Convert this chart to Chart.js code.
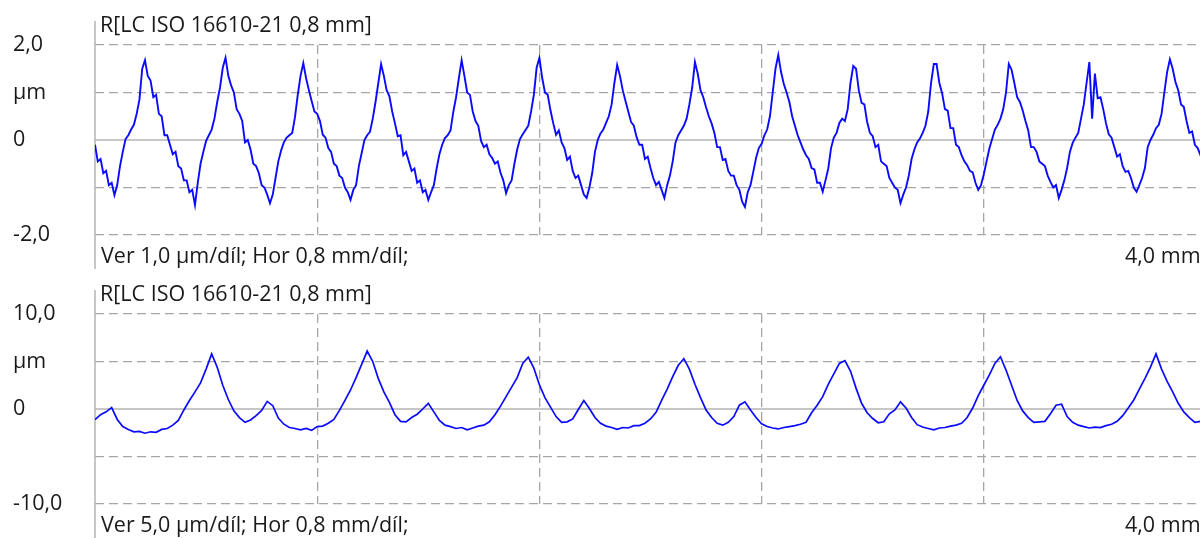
<!DOCTYPE html>
<html>
<head>
<meta charset="utf-8">
<script src="https://cdn.jsdelivr.net/npm/chart.js@4/dist/chart.umd.min.js"></script>
<style>
  html, body { margin: 0; padding: 0; background: #ffffff; overflow: hidden; width: 1200px; height: 538px; }
  canvas { display: block; }
</style>
</head>
<body>
<canvas id="top" width="1210" height="269"></canvas>
<canvas id="bottom" width="1210" height="269"></canvas>
<script>
// ---- Data ----
const panelTitle = "R[LC ISO 16610-21 0,8 mm]";
const topFooter = "Ver 1,0 µm/díl; Hor 0,8 mm/díl;";
const bottomFooter = "Ver 5,0 µm/díl; Hor 0,8 mm/díl;";
const rangeLabel = "4,0 mm";
const xTickValues = [0, 0.8, 1.6, 2.4, 3.2, 4.0];           // mm
const topYTickLabels = ["-2,0", "", "0", "µm", "2,0"];      // for -2,-1,0,1,2 µm
const bottomYTickLabels = ["-10,0", "", "0", "µm", "10,0"]; // for -10,-5,0,5,10 µm

// profile sampling interval (mm)
const topStepMm = 0.01;
const bottomStepMm = 0.02;

// top profile (µm), one value per 0.01 mm
const topProfile = [
 -0.10,-0.45,-0.40,-0.70,-0.65,-0.95,-0.90,-1.16,-0.95,-0.55,
 -0.25,0.02,0.10,0.22,0.32,0.55,0.85,1.50,1.68,1.35,
 1.25,0.90,0.95,0.55,0.50,0.10,0.10,-0.10,-0.30,-0.25,
 -0.55,-0.60,-0.85,-0.85,-1.10,-1.05,-1.37,-0.90,-0.50,-0.25,
 -0.02,0.10,0.22,0.45,0.80,1.10,1.52,1.73,1.35,1.15,
 1.00,0.65,0.55,0.40,-0.05,0.00,-0.20,-0.50,-0.55,-0.70,
 -0.95,-1.00,-1.15,-1.33,-1.15,-0.80,-0.45,-0.22,-0.05,0.05,
 0.10,0.15,0.48,0.95,1.35,1.62,1.30,1.05,0.82,0.60,
 0.55,0.40,0.11,0.05,-0.17,-0.25,-0.50,-0.55,-0.75,-0.80,
 -1.00,-1.10,-1.26,-1.05,-0.95,-0.55,-0.28,0.00,0.10,0.17,
 0.45,0.80,1.20,1.60,1.35,1.05,0.92,0.60,0.35,0.08,
 0.10,-0.32,-0.25,-0.45,-0.65,-0.60,-0.90,-0.85,-1.10,-1.05,
 -1.26,-1.10,-0.95,-0.60,-0.30,-0.10,0.04,0.10,0.20,0.59,
 0.90,1.30,1.68,1.35,1.00,0.95,0.60,0.40,0.30,-0.02,
 -0.15,-0.10,-0.30,-0.38,-0.50,-0.45,-0.69,-0.85,-1.12,-0.95,
 -0.85,-0.50,-0.20,0.02,0.12,0.21,0.30,0.60,0.95,1.52,
 1.73,1.31,1.00,0.95,0.62,0.35,0.11,0.20,-0.05,-0.17,
 -0.42,-0.35,-0.65,-0.80,-0.75,-0.95,-1.15,-1.22,-1.00,-0.70,
 -0.25,0.00,0.14,0.22,0.36,0.50,0.75,1.20,1.58,1.35,
 1.05,0.82,0.60,0.38,0.30,0.06,-0.10,-0.10,-0.40,-0.35,
 -0.59,-0.80,-0.95,-0.88,-1.05,-1.22,-0.95,-0.75,-0.45,-0.05,
 0.10,0.20,0.30,0.45,0.75,1.10,1.64,1.40,1.05,0.90,
 0.69,0.50,0.35,0.15,-0.15,-0.15,-0.42,-0.40,-0.65,-0.75,
 -0.75,-0.95,-1.05,-1.30,-1.41,-1.10,-0.95,-0.67,-0.38,-0.17,
 -0.08,0.10,0.22,0.50,1.00,1.50,1.79,1.43,1.18,1.00,
 0.80,0.50,0.30,0.10,-0.05,-0.20,-0.32,-0.40,-0.59,-0.62,
 -0.90,-0.90,-1.09,-0.85,-0.60,-0.17,0.05,0.15,0.36,0.45,
 0.40,0.65,1.20,1.56,1.50,1.05,0.78,0.75,0.38,0.15,
 0.08,-0.15,-0.10,-0.45,-0.50,-0.55,-0.80,-0.90,-1.00,-1.05,
 -1.33,-1.15,-1.00,-0.75,-0.40,-0.20,-0.05,0.03,0.15,0.30,
 0.60,1.20,1.60,1.60,1.20,0.98,0.65,0.62,0.25,0.25,
 -0.10,-0.15,-0.32,-0.45,-0.53,-0.65,-0.68,-0.90,-1.05,-0.95,
 -0.72,-0.45,-0.18,0.02,0.22,0.32,0.45,0.65,1.00,1.60,
 1.48,1.20,0.90,0.80,0.62,0.40,0.20,-0.15,-0.15,-0.25,
 -0.45,-0.50,-0.55,-0.75,-0.88,-1.00,-0.95,-1.22,-1.05,-0.85,
 -0.59,-0.25,-0.06,0.05,0.15,0.45,0.75,1.20,1.64,0.45,
 1.40,0.88,0.90,0.65,0.35,0.12,0.05,-0.15,-0.35,-0.30,
 -0.55,-0.67,-0.65,-0.80,-1.00,-1.09,-0.95,-0.80,-0.59,-0.15,
 0.00,0.11,0.25,0.32,0.55,1.00,1.43,1.70,1.50,1.22,
 1.05,0.75,0.70,0.40,0.15,0.18,-0.10,-0.17,-0.32,-0.20,
 -0.30
];

// bottom profile (µm), one value per 0.02 mm
const bottomProfile = [
 -1.13,-0.60,-0.30,0.15,-1.10,-1.85,-2.15,-2.40,-2.35,-2.55,
 -2.40,-2.45,-2.15,-2.05,-1.70,-1.20,-0.10,0.90,1.80,2.75,
 4.20,5.80,4.40,2.50,1.00,-0.20,-0.90,-1.40,-1.15,-0.70,
 -0.15,0.80,0.35,-0.95,-1.60,-1.95,-2.05,-2.20,-2.05,-2.25,
 -1.85,-1.80,-1.50,-1.10,-0.15,0.90,2.00,3.30,4.70,6.10,
 5.00,3.20,1.80,0.70,-0.60,-1.30,-1.35,-0.90,-0.55,0.00,
 0.60,-0.30,-1.20,-1.70,-1.85,-2.05,-1.95,-2.20,-2.00,-1.80,
 -1.70,-1.35,-0.60,0.30,1.30,2.30,3.30,4.80,5.45,4.30,
 2.55,1.20,0.20,-0.80,-1.40,-1.35,-1.05,-0.05,0.90,0.05,
 -0.90,-1.50,-1.80,-1.95,-2.15,-1.95,-2.00,-1.75,-1.75,-1.50,
 -1.05,-0.35,0.90,2.10,3.40,4.60,5.30,4.20,2.60,1.20,
 -0.10,-0.90,-1.50,-1.70,-1.40,-0.80,0.40,0.75,-0.10,-0.90,
 -1.55,-1.85,-2.00,-2.10,-1.95,-1.85,-1.75,-1.60,-1.40,-0.40,
 0.40,1.30,2.60,3.70,4.80,5.10,4.00,2.20,0.60,-0.40,
 -1.00,-1.45,-1.35,-0.50,-0.10,0.75,0.10,-0.90,-1.65,-1.90,
 -2.05,-2.20,-2.00,-1.95,-1.80,-1.70,-1.50,-0.90,0.10,1.40,
 2.50,3.60,4.80,5.50,4.10,2.50,0.90,-0.20,-0.90,-1.40,
 -1.35,-1.30,-0.50,0.40,0.50,-0.80,-1.40,-1.70,-1.85,-2.00,
 -1.90,-1.95,-1.75,-1.60,-1.30,-0.70,0.10,0.95,2.10,3.20,
 4.40,5.80,4.20,2.90,1.80,0.60,-0.30,-0.90,-1.40,-1.30,
 -1.20
];

// ---- Chart construction ----
const FONT = '"Open Sans", "Noto Sans", sans-serif';
const FONT_SIZE = 21.5;
const TEXT_COLOR = '#1a1a1a';
const GRID_COLOR = '#a6a6a6';
const LINE_COLOR = 'rgb(10,10,255)';

function toPoints(values, step) {
  return values.map((v, i) => ({ x: +(i * step).toFixed(4), y: v }));
}

const panelTextPlugin = {
  id: 'panelText',
  beforeDatasetsDraw(chart) {
    const { ctx, chartArea, scales } = chart;
    ctx.save();
    const y0 = scales.y.getPixelForValue(0);
    ctx.strokeStyle = '#b4b4b4';
    ctx.lineWidth = 1.5;
    ctx.beginPath();
    ctx.moveTo(chartArea.left, y0);
    ctx.lineTo(chartArea.right, y0);
    ctx.stroke();
    ctx.beginPath();
    ctx.moveTo(chartArea.left, 21);
    ctx.lineTo(chartArea.left, chart.height);
    ctx.stroke();
    ctx.restore();
  },
  afterDraw(chart, args, opts) {
    const { ctx, chartArea } = chart;
    ctx.save();
    ctx.fillStyle = TEXT_COLOR;
    ctx.font = FONT_SIZE + 'px ' + FONT;
    ctx.textBaseline = 'middle';
    ctx.textAlign = 'left';
    ctx.fillText(opts.title, chartArea.left + 5, 26);
    ctx.fillText(opts.footer, chartArea.left + 6, 257);
    ctx.fillText(opts.range, chartArea.right - 81, 257);
    ctx.restore();
  }
};

function makePanel(canvasId, values, step, yMin, yMax, yStep, yLabels, footer, lineWidth) {
  const yTickVals = [yMin, yMin + yStep, 0, yMax - yStep, yMax];
  return new Chart(document.getElementById(canvasId), {
    type: 'line',
    data: {
      datasets: [{
        data: toPoints(values, step),
        borderColor: LINE_COLOR,
        borderWidth: lineWidth,
        pointRadius: 0,
        tension: 0,
        fill: false
      }]
    },
    options: {
      responsive: false,
      animation: false,
      devicePixelRatio: 1,
      layout: { padding: { top: 45, left: 13, right: 4, bottom: 0 } },
      plugins: {
        legend: { display: false },
        tooltip: { enabled: false },
        panelText: { title: panelTitle, footer: footer, range: rangeLabel }
      },
      scales: {
        x: {
          type: 'linear',
          min: xTickValues[0],
          max: xTickValues[xTickValues.length - 1],
          afterBuildTicks(scale) { scale.ticks = xTickValues.map(v => ({ value: v })); },
          ticks: { display: false },
          grid: {
            drawTicks: false,
            color: c => (c.tick && c.tick.value === 0) ? 'rgba(0,0,0,0)' : GRID_COLOR,
            lineWidth: 1.3
          },
          border: { display: false, dash: [9, 5] },
          afterFit(scale) { scale.height = 34; }
        },
        y: {
          type: 'linear',
          min: yMin,
          max: yMax,
          afterBuildTicks(scale) { scale.ticks = yTickVals.map(v => ({ value: v })); },
          ticks: {
            crossAlign: 'far',
            color: TEXT_COLOR,
            font: { family: FONT, size: FONT_SIZE },
            callback: (v) => yLabels[yTickVals.indexOf(v)]
          },
          grid: {
            drawTicks: false,
            color: c => (c.tick && c.tick.value === 0) ? 'rgba(0,0,0,0)' : GRID_COLOR,
            lineWidth: 1.3
          },
          border: { display: false, dash: [9, 5] },
          afterFit(scale) { scale.width = 82; }
        }
      }
    },
    plugins: [panelTextPlugin]
  });
}

makePanel('top', topProfile, topStepMm, -2, 2, 1, topYTickLabels, topFooter, 1.9);
makePanel('bottom', bottomProfile, bottomStepMm, -10, 10, 5, bottomYTickLabels, bottomFooter, 1.7);
</script>
</body>
</html>
